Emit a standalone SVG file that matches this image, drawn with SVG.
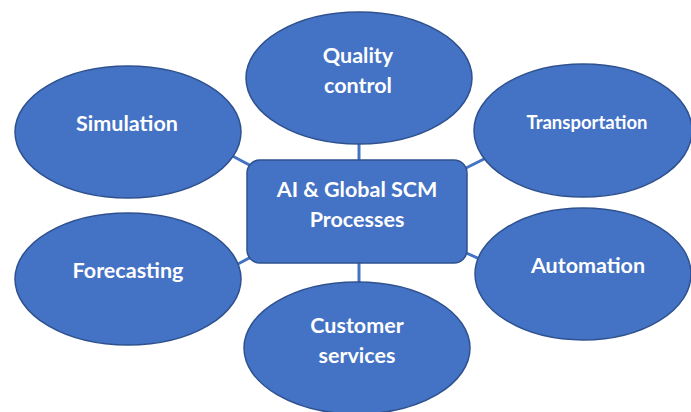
<svg xmlns="http://www.w3.org/2000/svg" width="691" height="412" viewBox="0 0 691 412">
  <style>
    .node { fill: #4472C4; stroke: #2F528F; stroke-width: 1.5; }
    .link { stroke: #4472C4; stroke-width: 3; fill: none; }
    .label { fill: #FFFFFF; font-family: Lato, "Open Sans", "Liberation Sans", sans-serif; font-weight: bold; font-size: 21.5px; text-anchor: middle; }
    .small { font-size: 18.5px; }
  </style>
  <rect width="691" height="412" fill="#FFFFFF"/>

  <!-- connectors from the hub to each process -->
  <g id="connectors">
    <line class="link" x1="359" y1="140" x2="359" y2="165"/>
    <line class="link" x1="359" y1="258" x2="359" y2="286"/>
    <line class="link" x1="225" y1="152" x2="255" y2="168"/>
    <line class="link" x1="462" y1="170" x2="488" y2="157"/>
    <line class="link" x1="236" y1="265" x2="255" y2="255"/>
    <line class="link" x1="462" y1="251" x2="484" y2="261"/>
  </g>

  <g id="quality-control">
    <ellipse class="node" cx="359" cy="78" rx="113" ry="66"/>
    <text class="label" x="358" y="63">Quality</text>
    <text class="label" x="358" y="93">control</text>
  </g>

  <g id="simulation">
    <ellipse class="node" cx="128" cy="132" rx="113" ry="66"/>
    <text class="label" x="127" y="131">Simulation</text>
  </g>

  <g id="transportation">
    <ellipse class="node" cx="583" cy="130.5" rx="109" ry="66.5"/>
    <text class="label small" x="587" y="129">Transportation</text>
  </g>

  <g id="forecasting">
    <ellipse class="node" cx="128" cy="279" rx="113" ry="66"/>
    <text class="label" x="128" y="278">Forecasting</text>
  </g>

  <g id="automation">
    <ellipse class="node" cx="583" cy="274" rx="108" ry="66"/>
    <text class="label" x="588" y="273">Automation</text>
  </g>

  <g id="customer-services">
    <ellipse class="node" cx="357" cy="348" rx="113" ry="66"/>
    <text class="label" x="357" y="333">Customer</text>
    <text class="label" x="357" y="363">services</text>
  </g>

  <g id="hub">
    <rect class="node" x="247" y="160" width="220" height="103" rx="13" ry="13"/>
    <text class="label" x="357" y="197">AI &amp; Global SCM</text>
    <text class="label" x="357" y="227">Processes</text>
  </g>
</svg>
